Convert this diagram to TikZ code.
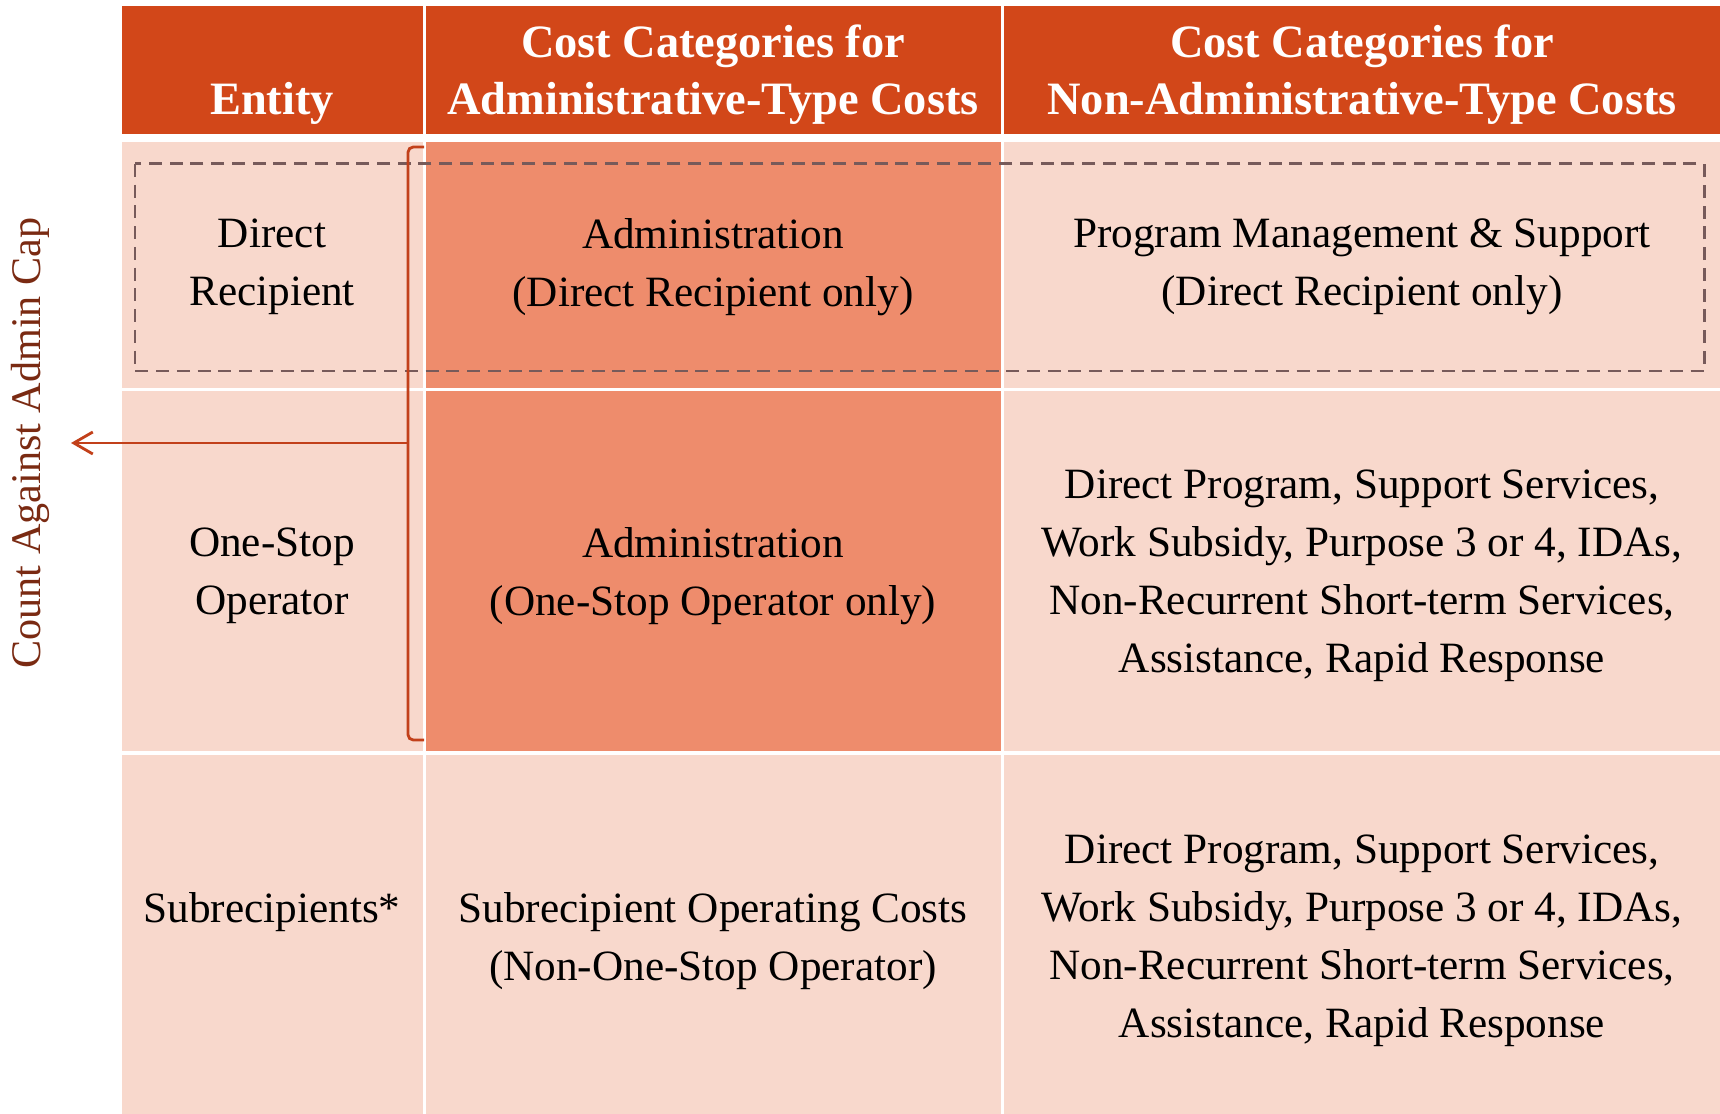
\documentclass[tikz,border=0pt]{standalone}
\usepackage{fontspec}
\setmainfont{Liberation Serif}
\usetikzlibrary{arrows.meta}
\definecolor{headred}{HTML}{D24719}
\definecolor{celllight}{HTML}{F8D8CC}
\definecolor{celldark}{HTML}{EE8C6C}
\definecolor{bracered}{HTML}{C2401A}
\definecolor{capbrown}{HTML}{7A2A12}
\definecolor{dashgray}{HTML}{775A5A}

\begin{document}
\begin{tikzpicture}[x=0.1mm, y=-0.1mm,
      hd/.style={
        text=white, align=center, inner sep=0pt,
        font=\bfseries\fontsize{13.2}{16.2}\selectfont
      },
      txt/.style={
        align=center, inner sep=0pt,
        font=\fontsize{12.3}{16.5}\selectfont
      },
      capline/.style={draw=bracered, line width=0.8pt}
    ]
      \useasboundingbox (0,0) rectangle (1720,1114);

      % table background
      \foreach \xa/\xb in {122/423,426/1001,1004/1720} {
        \fill[headred] (\xa,6) rectangle (\xb,134);
      }
      \foreach \ya/\yb in {142/388,391/751,755/1114} {
        \fill[celllight] (122,\ya) rectangle (423,\yb);
        \fill[celllight] (1004,\ya) rectangle (1720,\yb);
      }
      \fill[celldark] (426,142) rectangle (1001,388);
      \fill[celldark] (426,391) rectangle (1001,751);
      \fill[celllight] (426,755) rectangle (1001,1114);

      % headings
      \node[hd] (hEntity) at (272,103) {Entity};
      \node[hd] (hAdmin) at (713,75) {Cost Categories for\\Administrative-Type Costs};
      \node[hd] (hNonAdmin) at (1362,75) {Cost Categories for\\Non-Administrative-Type Costs};

      % cells
      \node[txt] (direct) at (272,267) {Direct\\Recipient};
      \node[txt] (adminDR) at (713,267) {Administration\\(Direct Recipient only)};
      \node[txt] (progDR) at (1362,267) {Program Management \& Support\\(Direct Recipient only)};
      \node[txt] (oneStop) at (272,576) {One-Stop\\Operator};
      \node[txt] (adminOSO) at (713,576) {Administration\\(One-Stop Operator only)};
      \node[txt] (progOSO) at (1362,576) {Direct Program, Support Services,\\Work Subsidy, Purpose 3 or 4, IDAs,\\Non-Recurrent Short-term Services,\\Assistance, Rapid Response};
      \node[txt] (subRec) at (272,912) {Subrecipients*};
      \node[txt] (subOps) at (713,941) {Subrecipient Operating Costs\\(Non-One-Stop Operator)};
      \node[txt] (progSub) at (1362,941) {Direct Program, Support Services,\\Work Subsidy, Purpose 3 or 4, IDAs,\\Non-Recurrent Short-term Services,\\Assistance, Rapid Response};

      % dashed frame
      \draw[dashgray, line width=0.85pt, dash pattern=on 3.7pt off 2.2pt]
        (135,164) rectangle (1704,371);

      % admin cap bracket
      \coordinate (braceTop) at (424,147);
      \coordinate (braceBot) at (424,740);
      \coordinate (braceTip) at (408,443);
      \coordinate (capEnd) at (71,443);
      \draw[capline, rounded corners=1.5pt] (braceTop) -| (braceTip) |- (braceBot);
      \draw[capline, -{Straight Barb[length=1.9mm, width=2.2mm]}] (braceTip) -- (capEnd);
      \node[rotate=90, text=capbrown, inner sep=0pt,
        font=\fontsize{12}{14}\selectfont] (capLabel) at (30,443) {Count Against Admin Cap};
    \end{tikzpicture}
\end{document}
